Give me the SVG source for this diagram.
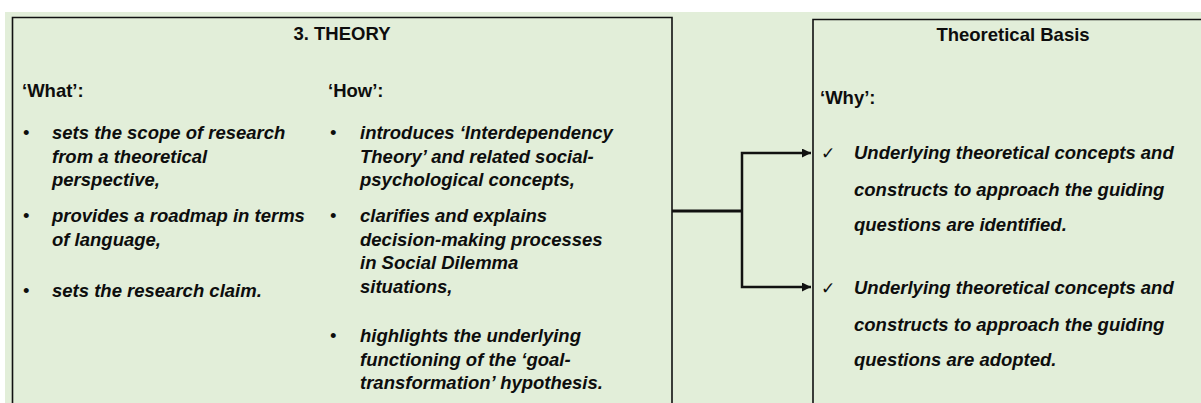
<svg xmlns="http://www.w3.org/2000/svg" width="1201" height="403" viewBox="0 0 1201 403">
  <style>
    text { font-family: "Liberation Sans", Arial, sans-serif; font-size: 18.5px; fill: #0d0d0d; }
    .head { font-weight: bold; }
    .item { font-weight: bold; font-style: italic; }
    .tick { font-family: "DejaVu Sans", sans-serif; font-size: 17px; font-weight: normal; }
    .box { fill: #e2eed9; stroke: #111; stroke-width: 1.6; }
    .wire { fill: none; stroke: #111; stroke-linejoin: miter; }
  </style>
  <defs>
    <marker id="arrow" viewBox="0 0 10 10" refX="10" refY="5" markerWidth="4.2" markerHeight="3.6" markerUnits="strokeWidth" orient="auto">
      <path d="M0,0 L10,5 L0,10 z" fill="#111"/>
    </marker>
  </defs>

  <!-- page background -->
  <rect x="5" y="12" width="1196" height="391" fill="#e2eed9"/>

  <!-- left node: theory chapter -->
  <g id="theory">
    <path class="box" d="M12.5,404 V17.5 H672 V404"/>
    <text class="head" x="342" y="40" text-anchor="middle">3. THEORY</text>

    <text class="head" x="22" y="97">‘What’:</text>
    <text x="23" y="139">•</text>
    <text class="item" x="52" y="139">sets the scope of research</text>
    <text class="item" x="52" y="162.5">from a theoretical</text>
    <text class="item" x="52" y="186">perspective,</text>
    <text x="23" y="222">•</text>
    <text class="item" x="52" y="222">provides a roadmap in terms</text>
    <text class="item" x="52" y="245.5">of language,</text>
    <text x="23" y="297">•</text>
    <text class="item" x="52" y="297">sets the research claim.</text>

    <text class="head" x="328" y="97">‘How’:</text>
    <text x="330" y="139">•</text>
    <text class="item" x="360" y="139">introduces ‘Interdependency</text>
    <text class="item" x="360" y="162.5">Theory’ and related social-</text>
    <text class="item" x="360" y="186">psychological concepts,</text>
    <text x="330" y="222">•</text>
    <text class="item" x="360" y="222">clarifies and explains</text>
    <text class="item" x="360" y="245.5">decision-making processes</text>
    <text class="item" x="360" y="269">in Social Dilemma</text>
    <text class="item" x="360" y="292.5">situations,</text>
    <text x="330" y="342">•</text>
    <text class="item" x="360" y="342">highlights the underlying</text>
    <text class="item" x="360" y="365.5">functioning of the ‘goal-</text>
    <text class="item" x="360" y="389">transformation’ hypothesis.</text>
  </g>

  <!-- right node: theoretical basis -->
  <g id="basis">
    <path class="box" d="M813,404 V19.5 H1202"/>
    <text class="head" x="1013" y="41" text-anchor="middle">Theoretical Basis</text>
    <text class="head" x="820" y="104">‘Why’:</text>

    <text class="tick" x="821" y="159">✓</text>
    <text class="item" x="854" y="159">Underlying theoretical concepts and</text>
    <text class="item" x="854" y="196">constructs to approach the guiding</text>
    <text class="item" x="854" y="231">questions are identified.</text>

    <text class="tick" x="821" y="294">✓</text>
    <text class="item" x="854" y="294">Underlying theoretical concepts and</text>
    <text class="item" x="854" y="331">constructs to approach the guiding</text>
    <text class="item" x="854" y="366">questions are adopted.</text>
  </g>

  <!-- connectors: theory feeds both outcomes -->
  <g id="connectors">
    <path class="wire" stroke-width="3" d="M672,211 H742"/>
    <path class="wire" stroke-width="2.5" d="M742,211 V153 H811" marker-end="url(#arrow)"/>
    <path class="wire" stroke-width="2.5" d="M742,211 V287 H811" marker-end="url(#arrow)"/>
  </g>
</svg>
